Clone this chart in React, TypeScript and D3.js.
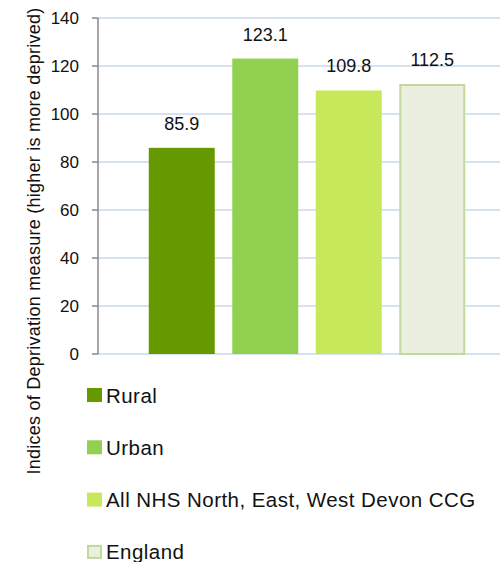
import React from "react";
import * as d3 from "d3";

const categories = ["Rural", "Urban", "All NHS North, East, West Devon CCG", "England"];
const values = [85.9, 123.1, 109.8, 112.5];
const yTicks = [0, 20, 40, 60, 80, 100, 120, 140];
const fills = ["#669900", "#92d050", "#c7e959", "#ebefdf"];
const strokes = ["none", "none", "none", "#c3d89c"];

export default function App() {
  const W = 500, H = 562;
  const y = d3.scaleLinear().domain([0, 140]).range([354, 18]);
  const x = d3.scaleBand().domain(categories).range([140, 474]).paddingInner(0.21).paddingOuter(0.105);
  const font = "'Liberation Sans', Arial, sans-serif";
  return (
    <svg width={W} height={H} style={{ position: "absolute", left: 0, top: 0 }} fontFamily={font}>
      {yTicks.map((t) => (
        <g key={t}>
          <line x1={98} x2={500} y1={y(t)} y2={y(t)} stroke="#c8d8ea" strokeWidth={1.5} />
          <line x1={92} x2={98} y1={y(t)} y2={y(t)} stroke="#888" strokeWidth={1.5} />
          <text x={79} y={y(t)} dy="0.35em" textAnchor="end" fontSize={17} fill="#111">{t}</text>
        </g>
      ))}
      <line x1={98} x2={98} y1={y(140)} y2={y(0)} stroke="#888" strokeWidth={1.5} />
      {categories.map((c, i) => {
        const sw = strokes[i] === "none" ? 0 : 2;
        return (
          <g key={c}>
            <rect
              x={(x(c) as number) + sw / 2}
              y={y(values[i]) + sw / 2}
              width={x.bandwidth() - sw}
              height={y(0) - y(values[i]) - sw / 2}
              fill={fills[i]}
              stroke={strokes[i]}
              strokeWidth={sw}
            />
            <text x={(x(c) as number) + x.bandwidth() / 2} y={y(values[i]) - 18} textAnchor="middle" fontSize={18} fill="#111">
              {values[i].toFixed(1)}
            </text>
          </g>
        );
      })}
      <text transform={`translate(40,241) rotate(-90)`} textAnchor="middle" fontSize={18} letterSpacing={0.25} fill="#111">
        Indices of Deprivation measure (higher is more deprived)
      </text>
      {categories.map((c, i) => {
        const ly = 388 + i * 52.3;
        const sw = strokes[i] === "none" ? 0 : 2;
        return (
          <g key={"l" + c}>
            <rect x={87 + sw / 2} y={ly + sw / 2} width={15 - sw} height={14 - sw} fill={fills[i]} stroke={strokes[i]} strokeWidth={sw} />
            <text x={106} y={ly + 14.5} fontSize={20.5} letterSpacing={0.45} fill="#111">{c}</text>
          </g>
        );
      })}
    </svg>
  );
}
